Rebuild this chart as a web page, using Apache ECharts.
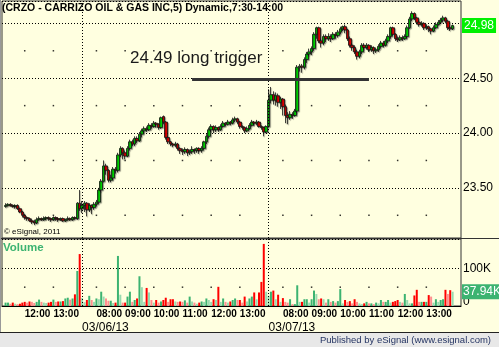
<!DOCTYPE html>
<html><head><meta charset="utf-8">
<script src="https://cdn.jsdelivr.net/npm/echarts@6/dist/echarts.min.js"></script>
<style>html,body{margin:0;padding:0;background:#ffffe0}#c{width:499px;height:347px}</style>
</head><body><div id="c"></div>
<script>
// ---- session structure (categories) ----
const dayDates = ['03/05/13', '03/06/13', '03/07/13'];
const dayStarts = ['11:20', '07:30', '07:30'];
const dayBarCounts = [32, 78, 78];

// ---- price data (5-minute bars) ----
const opens = [
23.33,23.34,23.35,23.34,23.33,23.34,23.31,23.28,23.25,23.23,23.22,23.20,23.19,23.18,23.21,23.22,23.21,23.22,23.23,23.22,23.21,23.23,23.22,23.21,23.22,23.20,23.21,23.22,23.21,23.23,23.22,23.36,
23.31,23.34,23.36,23.30,23.34,23.32,23.35,23.37,23.48,23.56,23.70,23.66,23.57,23.59,23.67,23.66,23.80,23.86,23.82,23.79,23.86,23.92,23.90,23.95,23.93,23.99,24.02,24.04,24.03,24.07,24.06,24.09,24.08,24.05,24.15,24.10,23.96,23.92,23.90,23.89,23.90,23.86,23.84,23.83,23.85,23.82,23.83,23.85,23.84,23.86,23.84,23.86,23.92,23.97,24.03,24.06,24.03,24.05,24.03,24.06,24.09,24.08,24.10,24.09,24.12,24.13,24.10,24.06,24.05,24.02,24.04,24.07,24.10,24.09,24.10,24.06,24.05,24.01,
24.06,24.30,24.35,24.30,24.34,24.28,24.31,24.24,24.16,24.14,24.17,24.16,24.20,24.60,24.61,24.60,24.67,24.72,24.74,24.77,24.90,24.96,24.84,24.82,24.88,24.86,24.88,24.86,24.90,24.89,24.92,24.95,24.97,24.94,24.86,24.80,24.78,24.74,24.70,24.74,24.80,24.78,24.80,24.76,24.78,24.75,24.76,24.79,24.82,24.80,24.84,24.88,24.96,24.90,24.86,24.85,24.87,24.86,24.88,24.96,25.04,25.09,25.05,25.01,24.99,25.00,24.96,24.97,24.95,24.93,24.96,24.99,25.01,25.03,25.05,25.02,24.96,24.95
];
const closes = [
23.34,23.35,23.34,23.33,23.34,23.31,23.28,23.25,23.23,23.22,23.20,23.19,23.18,23.21,23.22,23.21,23.22,23.23,23.22,23.21,23.23,23.22,23.21,23.22,23.20,23.21,23.22,23.21,23.23,23.22,23.36,23.31,
23.34,23.36,23.30,23.34,23.32,23.35,23.37,23.48,23.56,23.70,23.66,23.57,23.59,23.67,23.66,23.80,23.86,23.82,23.79,23.86,23.92,23.90,23.95,23.93,23.99,24.02,24.04,24.03,24.07,24.06,24.09,24.08,24.05,24.14,24.10,23.96,23.92,23.90,23.89,23.90,23.86,23.84,23.83,23.85,23.82,23.83,23.85,23.84,23.86,23.84,23.86,23.92,23.97,24.03,24.06,24.03,24.05,24.03,24.06,24.09,24.08,24.10,24.09,24.12,24.13,24.10,24.06,24.05,24.02,24.04,24.07,24.10,24.09,24.10,24.06,24.05,24.01,24.06,
24.30,24.35,24.30,24.34,24.28,24.31,24.24,24.16,24.14,24.17,24.16,24.20,24.60,24.61,24.60,24.67,24.72,24.74,24.77,24.90,24.96,24.84,24.82,24.88,24.86,24.88,24.86,24.90,24.89,24.92,24.95,24.97,24.94,24.86,24.80,24.78,24.74,24.70,24.74,24.80,24.78,24.80,24.76,24.78,24.75,24.76,24.79,24.82,24.80,24.84,24.88,24.96,24.90,24.86,24.85,24.87,24.86,24.88,24.96,25.04,25.09,25.05,25.01,24.99,25.00,24.96,24.97,24.95,24.93,24.96,24.99,25.01,25.03,25.05,25.02,24.96,24.95,24.98
];
const highs = [
23.36,23.36,23.36,23.35,23.35,23.35,23.32,23.29,23.26,23.24,23.23,23.22,23.21,23.23,23.24,23.23,23.24,23.24,23.24,23.23,23.24,23.24,23.23,23.23,23.23,23.22,23.24,23.23,23.24,23.24,23.37,23.48,
23.38,23.38,23.37,23.36,23.35,23.37,23.39,23.50,23.58,23.75,23.72,23.67,23.62,23.69,23.69,23.82,23.88,23.87,23.84,23.88,23.94,23.94,23.97,23.97,24.01,24.04,24.06,24.06,24.09,24.09,24.11,24.10,24.09,24.15,24.16,24.11,23.97,23.93,23.91,23.92,23.91,23.87,23.86,23.87,23.86,23.85,23.88,23.86,23.87,23.87,23.88,23.93,23.99,24.05,24.08,24.07,24.07,24.06,24.08,24.11,24.10,24.12,24.11,24.14,24.15,24.14,24.11,24.07,24.06,24.06,24.09,24.12,24.11,24.12,24.11,24.07,24.06,24.07,
24.40,24.42,24.38,24.37,24.36,24.33,24.32,24.26,24.19,24.20,24.19,24.22,24.62,24.63,24.63,24.69,24.74,24.77,24.79,24.92,24.97,24.97,24.86,24.90,24.90,24.91,24.90,24.92,24.92,24.94,24.97,24.98,24.99,24.95,24.88,24.82,24.80,24.76,24.76,24.82,24.82,24.82,24.81,24.80,24.79,24.78,24.81,24.84,24.84,24.86,24.90,24.97,24.97,24.91,24.88,24.89,24.89,24.90,24.98,25.06,25.11,25.10,25.06,25.03,25.02,25.01,24.99,24.98,24.96,24.98,25.01,25.03,25.05,25.07,25.06,25.03,24.98,24.99
];
const lows = [
23.32,23.33,23.33,23.32,23.31,23.30,23.27,23.23,23.21,23.20,23.19,23.17,23.16,23.17,23.20,23.20,23.20,23.21,23.20,23.19,23.20,23.20,23.19,23.20,23.19,23.19,23.20,23.20,23.20,23.21,23.21,23.29,
23.27,23.28,23.24,23.28,23.26,23.30,23.33,23.35,23.46,23.55,23.62,23.55,23.55,23.57,23.63,23.64,23.78,23.76,23.76,23.78,23.84,23.88,23.88,23.91,23.92,23.96,24.00,24.01,24.02,24.04,24.05,24.05,24.03,24.04,24.08,23.94,23.90,23.88,23.87,23.87,23.84,23.81,23.80,23.81,23.79,23.80,23.81,23.81,23.82,23.81,23.82,23.84,23.90,23.95,24.01,24.00,24.01,24.01,24.02,24.05,24.06,24.07,24.07,24.08,24.10,24.08,24.04,24.03,24.00,24.01,24.03,24.06,24.07,24.07,24.05,24.03,23.97,24.00,
24.05,24.27,24.26,24.25,24.24,24.22,24.16,24.09,24.08,24.12,24.13,24.15,24.18,24.56,24.55,24.58,24.64,24.70,24.71,24.75,24.86,24.82,24.78,24.80,24.83,24.84,24.83,24.85,24.86,24.87,24.90,24.93,24.91,24.84,24.78,24.75,24.72,24.67,24.68,24.72,24.76,24.76,24.74,24.74,24.72,24.73,24.74,24.77,24.78,24.79,24.82,24.86,24.88,24.84,24.83,24.84,24.84,24.85,24.87,24.95,25.02,25.03,24.99,24.97,24.97,24.94,24.94,24.92,24.90,24.92,24.95,24.98,25.00,25.01,25.00,24.94,24.93,24.94
];
// ---- volume (thousands of shares) ----
const volumes = [
9,9,6,9,6,5,6,9,11,9,12,11,8,11,17,11,9,8,9,11,17,11,12,12,13,20,22,17,20,31,93,138,
21,10,16,27,16,11,20,18,38,25,20,14,14,8,9,133,30,9,9,25,38,11,16,20,79,50,11,48,36,16,9,16,9,12,16,22,11,18,18,12,11,12,11,15,9,25,12,9,6,9,12,11,20,16,11,18,16,51,11,20,11,9,12,16,20,16,16,9,25,12,20,25,36,18,36,64,165,38,
27,38,41,18,30,11,21,11,9,18,5,5,55,11,11,18,18,9,18,41,32,18,20,18,9,18,11,13,9,13,45,7,16,11,13,7,18,11,7,5,7,11,7,7,5,9,7,16,11,11,16,9,11,13,16,11,9,32,16,7,7,28,43,11,11,11,11,29,25,9,18,11,16,18,43,32,42,37.94
];
// ---- annotation ----
const triggerPrice = 24.49;
const triggerFrom = '03/06/13 11:20';
const triggerTo = '03/07/13 11:00';
const triggerText = '24.49 long trigger';
const priceMinorLevels = [23.25, 23.75, 24.25, 24.75];
const volumeMinorLevels = [50];

// ---- build categories ----
const cats = ['pad0'], times = [''], dates = [''];
for (let d = 0; d < dayDates.length; d++) {
  const [h, m] = dayStarts[d].split(':').map(Number);
  for (let k = 0; k < dayBarCounts[d]; k++) {
    const t = h * 60 + m + 5 * k;
    const ts = String(Math.floor(t / 60)).padStart(2, '0') + ':' + String(t % 60).padStart(2, '0');
    cats.push(dayDates[d] + ' ' + ts); times.push(ts); dates.push(dayDates[d]);
  }
}
['pad1', 'pad2', 'pad3'].forEach(p => { cats.push(p); times.push(''); dates.push(''); });

const hourIdx = [], dayStartNames = [];
times.forEach((t, i) => {
  if (t.endsWith(':00')) hourIdx.push(i);
  if (t === '07:30') dayStartNames.push(cats[i]);
});

const candleData = opens.map((o, i) => [i + 1, o, closes[i], lows[i], highs[i]]);
const volData = volumes.map((v, i) => {
  const up = closes[i] >= opens[i];
  const light = i > 0 && v < volumes[i - 1];
  const c = up ? (light ? '#98dbb0' : '#3cb371') : (light ? '#ff8f8f' : '#ff0000');
  return { value: [i + 1, v], itemStyle: { color: c } };
});
const priceDots = [], volDots = [];
hourIdx.forEach(i => {
  priceMinorLevels.forEach(l => priceDots.push([i, l]));
  volumeMinorLevels.forEach(l => volDots.push([i, l]));
});

const NARROW = "'Liberation Sans Narrow', 'Liberation Sans', Arial, sans-serif";
const ARIAL = "'Liberation Sans', Arial, sans-serif";
const lastClose = closes[closes.length - 1];
const lastVol = volumes[volumes.length - 1];
const sepLine = { type: [1, 2], color: '#000', width: 1 };
const hiddenLine = { color: 'rgba(0,0,0,0)', width: 1, type: 'solid' };

const chart = echarts.init(document.getElementById('c'), null, { renderer: 'canvas' });
chart.setOption({
  animation: false,
  backgroundColor: '#ffffe0',
  grid: [
    { left: 2, right: 38, top: 1, height: 237, show: true, borderColor: '#333', borderWidth: 1, backgroundColor: 'transparent' },
    { left: 2, right: 38, top: 239, height: 67, show: true, borderColor: '#333', borderWidth: 1, backgroundColor: 'transparent' }
  ],
  xAxis: [
    { type: 'category', gridIndex: 0, data: cats, boundaryGap: true,
      axisLine: { show: false }, axisTick: { show: false }, axisLabel: { show: false }, splitLine: { show: false } },
    { type: 'category', gridIndex: 1, data: cats, boundaryGap: true,
      axisLine: { show: true, lineStyle: { color: '#000', width: 1 } }, axisTick: { show: false }, splitLine: { show: false },
      axisLabel: { interval: (i, v) => times[i].endsWith(':00'), formatter: (v, i) => times[i],
        align: 'left', fontSize: 10, fontWeight: 'bold', fontFamily: ARIAL, color: '#000', margin: 3 } },
    { type: 'category', gridIndex: 1, data: cats, boundaryGap: true, position: 'bottom', offset: 13,
      axisLine: { show: false }, axisTick: { show: false }, splitLine: { show: false },
      axisLabel: { interval: (i, v) => times[i] === '07:30', formatter: (v, i) => dates[i],
        align: 'left', fontSize: 12, fontFamily: NARROW, color: '#000', margin: 3 } }
  ],
  yAxis: [
    { type: 'value', gridIndex: 0, position: 'right', min: 23.043, max: 25.204, splitNumber: 5,
      axisLine: { show: false }, axisTick: { show: false },
      axisLabel: { showMinLabel: false, showMaxLabel: false, formatter: v => v.toFixed(2),
        fontSize: 12, fontFamily: NARROW, color: '#000', margin: 2 },
      splitLine: { show: true, lineStyle: { type: [1, 2], color: '#000', width: 1 } } },
    { type: 'value', gridIndex: 1, position: 'right', min: 0, max: 178, interval: 100,
      axisLine: { show: false }, axisTick: { show: false },
      axisLabel: { showMaxLabel: false, formatter: v => v === 0 ? '{z|0}' : (v === 100 ? '100K' : ''),
        fontSize: 12, fontFamily: NARROW, color: '#000', margin: 2,
        rich: { z: { fontSize: 12, fontFamily: NARROW, color: '#000', padding: [0, 0, 8, 0] } } },
      splitLine: { show: true, lineStyle: { type: [1, 2], color: '#000', width: 1 } } }
  ],
  series: [
    { type: 'scatter', xAxisIndex: 0, yAxisIndex: 0, data: priceDots, symbol: 'rect', symbolSize: [1.5, 1.5],
      itemStyle: { color: '#000' }, silent: true, z: 1 },
    { type: 'scatter', xAxisIndex: 1, yAxisIndex: 1, data: volDots, symbol: 'rect', symbolSize: [1.5, 1.5],
      itemStyle: { color: '#000' }, silent: true, z: 1 },
    { type: 'candlestick', xAxisIndex: 0, yAxisIndex: 0, data: candleData, encode: { x: 0, y: [1, 2, 3, 4] },
      barWidth: 3,
      itemStyle: { color: '#00d400', color0: '#e00000', borderColor: '#111', borderColor0: '#111', borderWidth: 0.8,
        shadowColor: 'rgba(0,0,0,0.35)', shadowBlur: 1, shadowOffsetX: 1, shadowOffsetY: 1 },
      markLine: { silent: true, symbol: 'none', animation: false,
        data: [
          ...dayStartNames.map(n => ({ xAxis: n, lineStyle: sepLine, label: { show: false } })),
          [ { coord: [triggerFrom, triggerPrice], lineStyle: { color: '#333', width: 3, type: 'solid' }, label: { show: false } },
            { coord: [triggerTo, triggerPrice] } ]
        ] } },
    { type: 'line', xAxisIndex: 0, yAxisIndex: 0, data: [], silent: true,
      markLine: { silent: true, symbol: 'none', animation: false,
        data: [ { yAxis: lastClose, lineStyle: hiddenLine,
            label: { show: true, position: 'end', distance: 1, formatter: () => lastClose.toFixed(2),
              backgroundColor: '#00f000', color: '#fff', fontSize: 12, fontFamily: NARROW, padding: [2, 2, 1, 2] } } ] } },
    { type: 'bar', xAxisIndex: 1, yAxisIndex: 1, data: volData, encode: { x: 0, y: 1 }, barWidth: 2,
      markLine: { silent: true, symbol: 'none', animation: false,
        data: [
          ...dayStartNames.map(n => ({ xAxis: n, lineStyle: sepLine, label: { show: false } })),
          { yAxis: lastVol, lineStyle: hiddenLine,
            label: { show: true, position: 'end', distance: 1, formatter: () => lastVol.toFixed(2) + 'K',
              backgroundColor: '#3cb371', color: '#fff', fontSize: 12, fontFamily: NARROW, padding: [2, 1, 1, 1] } }
        ] } }
  ],
  graphic: [
    { type: 'text', left: 2, top: 3, z: 10, style: { text: '(CRZO - CARRIZO OIL & GAS INC,5) Dynamic,7:30-14:00',
        fontSize: 10.5, fontWeight: 'bold', fontFamily: NARROW, fill: '#000' } },
    { type: 'text', left: 130, top: 50, z: 10, style: { text: triggerText, fontSize: 17, fontFamily: ARIAL, fill: '#1a1a1a' } },
    { type: 'text', left: 4, top: 228, z: 10, style: { text: '\u00a9 eSignal, 2011', fontSize: 8, fontFamily: ARIAL, fill: '#000' } },
    { type: 'text', left: 3, top: 242, z: 10, style: { text: 'Volume', fontSize: 11.5, fontWeight: 'bold', fontFamily: NARROW, fill: '#3cb371' } },
    { type: 'line', z: 10, shape: { x1: 0, y1: 238.5, x2: 499, y2: 238.5 }, style: { stroke: '#333', lineWidth: 1 } },
    { type: 'line', z: 10, shape: { x1: 0.5, y1: 0, x2: 0.5, y2: 332 }, style: { stroke: '#999', lineWidth: 1 } },
    { type: 'rect', z: 10, shape: { x: 0, y: 332, width: 499, height: 15 }, style: { fill: '#e8e8e8' } },
    { type: 'line', z: 11, shape: { x1: 0, y1: 332.5, x2: 499, y2: 332.5 }, style: { stroke: '#222', lineWidth: 1 } },
    { type: 'text', right: 8, top: 335, z: 11, style: { text: 'Published by eSignal (www.esignal.com)', fontSize: 9.5, fontFamily: NARROW, fill: '#1f2f5f' } }
  ]
});
</script></body></html>
